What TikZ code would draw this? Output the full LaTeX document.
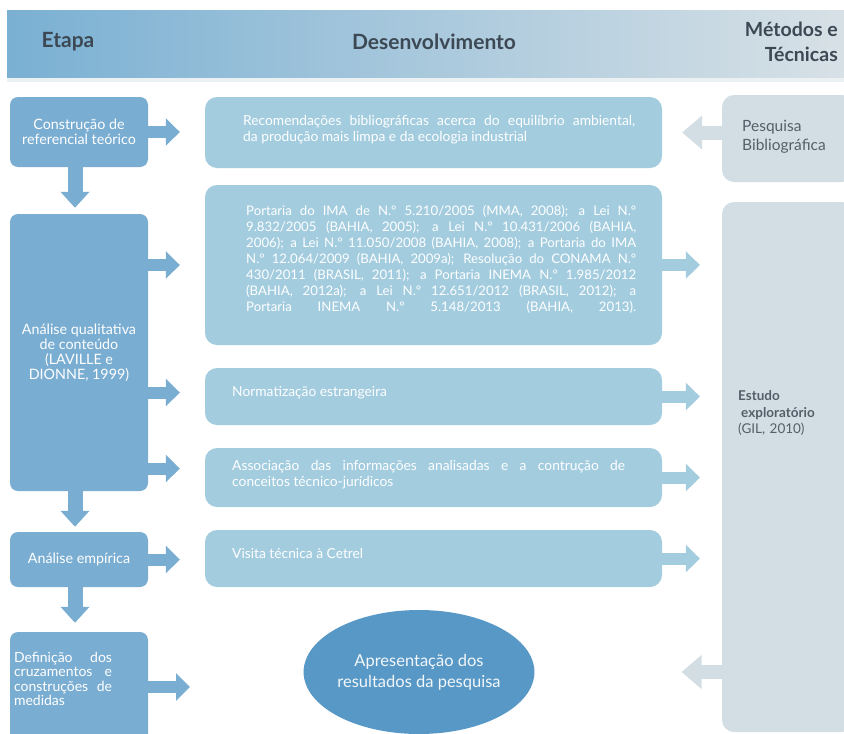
\documentclass[tikz,border=0pt]{standalone}
\usepackage{fontspec}
\setmainfont{Lato}
\usetikzlibrary{arrows.meta,shapes.geometric}
\definecolor{lcol}{RGB}{122,173,210}
\definecolor{mcol}{RGB}{163,204,223}
\definecolor{rcol}{RGB}{211,222,228}
\definecolor{ecol}{RGB}{88,152,198}
\definecolor{htext}{RGB}{60,72,84}
\definecolor{rtext}{RGB}{85,95,105}
\definecolor{hleft}{RGB}{122,176,211}
\definecolor{hmid}{RGB}{166,205,222}
\definecolor{hright}{RGB}{216,225,230}
\pgfdeclarelayer{bg}
\pgfsetlayers{bg,main}
\begin{document}
\begin{tikzpicture}[x=1pt,y=-1pt,
  lbox/.style={fill=lcol, rounded corners=8pt, inner sep=0pt, text=white, align=center,
    font=\fontsize{14.3}{15}\selectfont},
  mbox/.style={fill=mcol, rounded corners=12pt, inner sep=0pt, minimum width=457pt},
  rbox/.style={fill=rcol, rounded corners=12pt, inner sep=0pt, minimum width=132pt},
  mtext/.style={text=white, align=left, inner sep=0pt, anchor=west,
    font=\fontsize{13.8}{16}\selectfont},
  rtextst/.style={text=rtext, align=left, inner sep=0pt, anchor=west, text width=100pt},
  htextst/.style={text=htext, align=center, inner sep=0pt,
    font=\fontsize{21}{25}\selectfont\bfseries},
  larr/.style={draw=lcol, line width=12pt, -{Triangle[length=14pt,width=27pt]}},
  darr/.style={draw=lcol, line width=15pt, -{Triangle[length=16pt,width=28pt]}},
  marr/.style={draw=mcol, line width=12pt, -{Triangle[length=14pt,width=27pt]}},
  rarr/.style={draw=rcol, line width=14pt, -{Triangle[length=20pt,width=33pt]}}
]
\useasboundingbox (0,0) rectangle (844,734);
\clip (0,0) rectangle (844,734);
\fill[white] (0,0) rectangle (844,734);

% header band
\shade[left color=hleft, middle color=hmid, right color=hright] (7,10) rectangle (850,78);
\fill[rcol!45] (7,78) rectangle (850,82);
\node[htextst] (h1) at (68,42) {Etapa};
\node[htextst] (h2) at (434,42) {Desenvolvimento};
\node[htextst, align=right, anchor=east, font=\fontsize{19.5}{25}\selectfont\bfseries] (h3) at (838,42) {Métodos e\\Técnicas};

% left column
\node[lbox, minimum width=138pt, minimum height=70pt] (b1) at (79,132) {Construção de\\referencial teórico};
\node[lbox, minimum width=138pt, minimum height=277pt] (b2) at (79,352.5) {Análise qualitativa\\de conteúdo\\(LAVILLE e\\DIONNE, 1999)};
\node[lbox, minimum width=138pt, minimum height=55pt] (b3) at (79,559.5) {Análise empírica};
\node[lbox, minimum width=138pt, minimum height=112pt] (b4) at (79,688) {};
\node[text=white, align=left, inner sep=0pt, font=\fontsize{14}{14.5}\selectfont] (b4t) at (63,679)
  {\makebox[98pt][s]{Definição dos}\\\makebox[98pt][s]{cruzamentos e}\\\makebox[98pt][s]{construções de}\\medidas};
\begin{pgfonlayer}{bg}
  \foreach \b in {b1,b2,b3,b4}{\fill[lcol] (\b.north west) rectangle ([xshift=20pt]\b.south west);}
\end{pgfonlayer}

% middle column
\node[mbox, minimum height=71pt] (m1) at (433.5,132.5) {};
\node[mbox, minimum height=160pt] (m2) at (433.5,265) {};
\node[mbox, minimum height=57pt] (m3) at (433.5,396.5) {};
\node[mbox, minimum height=59pt] (m4) at (433.5,477.5) {};
\node[mbox, minimum height=57pt] (m5) at (433.5,558.5) {};
\node[mtext] (m1t) at (243,130)
  {\makebox[392pt][s]{Recomendações bibliográficas acerca do equilíbrio ambiental,}\\da produção mais limpa e da ecologia industrial};
\node[mtext, font=\fontsize{13.2}{16}\selectfont] (m2t) at (246,259)
  {\makebox[390pt][s]{Portaria do IMA de N.º 5.210/2005 (MMA, 2008); a Lei N.º}\\
   \makebox[390pt][s]{9.832/2005 (BAHIA, 2005); a Lei N.º 10.431/2006 (BAHIA,}\\
   \makebox[390pt][s]{2006); a Lei N.º 11.050/2008 (BAHIA, 2008); a Portaria do IMA}\\
   \makebox[390pt][s]{N.º 12.064/2009 (BAHIA, 2009a); Resolução do CONAMA N.º}\\
   \makebox[390pt][s]{430/2011 (BRASIL, 2011); a Portaria INEMA N.º 1.985/2012}\\
   \makebox[390pt][s]{(BAHIA, 2012a); a Lei N.º 12.651/2012 (BRASIL, 2012); a}\\
   \makebox[390pt][s]{Portaria INEMA N.º 5.148/2013 (BAHIA, 2013).}};
\node[mtext] (m3t) at (232,393) {Normatização estrangeira};
\node[mtext] (m4t) at (232,475)
  {\makebox[393pt][s]{Associação das informações analisadas e a contrução de}\\conceitos técnico-jurídicos};
\node[mtext] (m5t) at (232,553) {Visita técnica à Cetrel};

% ellipse
\node[ellipse, fill=ecol, minimum width=212pt, minimum height=124pt, inner sep=0pt,
  text=white!92!ecol, align=center, font=\fontsize{16.5}{21}\selectfont] (e) at (419,672)
  {Apresentação dos\\resultados da pesquisa};

% right column
\node[rbox, minimum height=87pt] (r1) at (788,138.5) {};
\node[rbox, minimum height=530pt] (r2) at (788,467) {};
\node[rtextst, font=\fontsize{15.5}{19}\selectfont] (r1t) at (742,137) {Pesquisa\\Bibliográfica};
\node[rtextst, font=\fontsize{13.5}{16.5}\selectfont] (r2t) at (738,413)
  {\textbf{Estudo}\\\hspace*{3pt}\textbf{exploratório}\\(GIL, 2010)};

% left arrows
\draw[larr, shorten >=25pt] (b1.east) -- (b1.east -| m1.west);
\draw[larr, shorten >=25pt] (b2.east |- m2.west) -- (m2.west);
\coordinate (a3) at ([yshift=4pt]m3.west);
\draw[larr, shorten >=25pt] (b2.east |- a3) -- (a3);
\coordinate (a4) at ([yshift=9pt]m4.west);
\draw[larr, shorten >=25pt] (b2.east |- a4) -- (a4);
\draw[larr, shorten >=25pt] (b3.east) -- (b3.east -| m5.west);
\coordinate (b4tip) at (190,687);
\draw[larr] (b4.east |- b4tip) -- (b4tip);

% down arrows
\draw[darr, shorten >=6pt] ([xshift=-4pt]b1.south) -- ([xshift=-4pt]b2.north);
\draw[darr, shorten >=5pt] ([xshift=-4pt]b2.south) -- ([xshift=-4pt]b3.north);
\draw[darr, shorten >=9pt] ([xshift=-4pt]b3.south) -- ([xshift=-4pt]b4.north);

% middle to right arrows
\draw[marr, shorten >=22pt] (m2.east) -- (m2.east -| r2.west);
\draw[marr, shorten >=22pt] (m3.east) -- (m3.east -| r2.west);
\draw[marr, shorten >=22pt] (m4.east) -- (m4.east -| r2.west);
\draw[marr, shorten >=22pt] (m5.east) -- (m5.east -| r2.west);

% right to left arrows
\draw[rarr, shorten >=20pt] (r1.west |- m1.east) -- (m1.east);
\draw[rarr, shorten >=147pt] (r2.west |- e.east) -- (e.east);
\end{tikzpicture}
\end{document}
